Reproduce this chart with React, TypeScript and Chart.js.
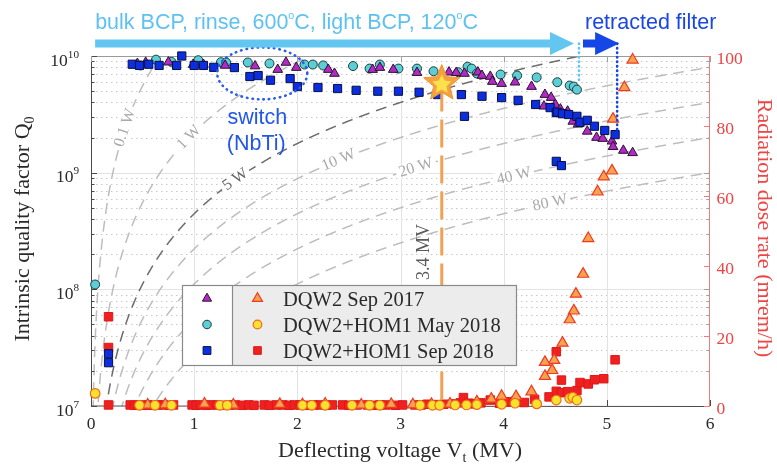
import React, { useEffect, useRef } from "react";
import { Chart, registerables } from "chart.js";

Chart.register(...registerables);

// ---- measured data: [deflecting voltage (MV), value] ----
const dqw2Sep2017Q0: [number, number][] = [
  [0.45, 8.6e9], [0.53, 8.8e9], [0.75, 8.85e9], [0.99, 8.45e9], [1.09, 8.45e9], [1.3, 8.3e9],
  [1.59, 8.2e9], [1.81, 7.65e9], [1.89, 8.8e9], [1.99, 7.96e9], [2.3, 7.65e9], [2.36, 7.08e9],
  [2.73, 7.65e9], [2.8, 7.96e9], [2.93, 7.65e9], [3.16, 7.2e9], [3.47, 7.26e9], [3.54, 7.2e9],
  [3.62, 7.08e9], [3.75, 7.26e9], [3.79, 6.8e9], [3.87, 6.67e9], [3.89, 6.04e9], [3.98, 5.8e9],
  [4.11, 5.96e9], [4.27, 5.47e9], [4.4, 4.67e9], [4.46, 4.4e9], [4.39, 3.71e9], [4.5, 3.84e9],
  [4.55, 3.5e9], [4.62, 3.36e9], [4.67, 2.75e9], [4.72, 2.6e9], [4.81, 2.26e9], [4.9, 2.0e9],
  [4.96, 1.96e9], [5.05, 1.86e9], [5.06, 1.67e9], [5.16, 1.55e9], [5.25, 1.48e9],
];

const dqw2Hom1May2018Q0: [number, number][] = [
  [0.04, 1.1e8], [0.48, 8.3e9], [0.63, 9.3e9], [0.78, 8.9e9], [1.04, 9.2e9], [1.26, 8.85e9],
  [1.31, 8.8e9], [1.52, 8.8e9], [1.73, 8.63e9], [2.07, 8.45e9], [2.15, 8.45e9], [2.25, 8.3e9],
  [2.54, 8.2e9], [2.7, 7.8e9], [2.8, 8.45e9], [2.98, 7.8e9], [3.16, 7.8e9], [3.32, 7.4e9],
  [3.56, 7.26e9], [3.65, 8.1e9], [3.69, 7.8e9], [3.74, 7.08e9], [3.97, 6.94e9], [4.13, 6.8e9],
  [4.32, 6.55e9], [4.52, 5.96e9], [4.64, 5.58e9], [4.68, 5.47e9], [4.71, 5.15e9],
];

const dqw2Hom1Sep2018Q0: [number, number][] = [
  [0.17, 2.8e7], [0.17, 2.35e7], [0.4, 8.5e9], [0.47, 8.3e9], [0.56, 8.5e9], [0.66, 8.3e9],
  [0.83, 8.3e9], [0.88, 1.0e10], [1.0, 8.3e9], [1.09, 8.3e9], [1.19, 8.0e9], [1.39, 7.96e9],
  [1.54, 6.67e9], [1.62, 6.8e9], [1.74, 6.2e9], [1.93, 6.4e9], [2.0, 5.47e9], [2.2, 5.37e9],
  [2.39, 5.26e9], [2.57, 5.08e9], [2.78, 4.99e9], [2.98, 4.99e9], [3.18, 4.89e9], [3.36, 4.67e9],
  [3.59, 4.67e9], [3.62, 3.04e9], [3.79, 4.52e9], [3.98, 4.4e9], [4.14, 4.17e9], [4.31, 3.84e9],
  [4.45, 3.61e9], [4.51, 3.27e9], [4.52, 3.3e9], [4.57, 3.2e9], [4.63, 3.15e9], [4.71, 3.04e9],
  [4.74, 2.7e9], [4.81, 2.81e9], [4.88, 2.5e9], [4.98, 2.3e9], [5.08, 2.12e9], [4.51, 1.25e9],
  [4.56, 1.15e9],
];

const dqw2Sep2017Dose: [number, number][] = [
  [5.25, 98.9], [5.17, 91], [5.06, 82], [5.05, 67.2], [4.97, 65.5], [4.91, 61.2], [4.82, 47.9],
  [4.77, 37.7], [4.7, 32], [4.68, 27.2], [4.64, 24.7], [4.57, 18], [4.49, 13.1], [4.4, 12.5],
  [4.47, 10.2], [4.4, 8.5], [4.27, 4.1], [4.12, 2.7], [3.98, 2.8], [3.88, 2.0], [3.74, 1.2],
  [3.48, 0.6], [2.91, 0.5], [0.55, 0.3], [0.72, 0.4], [1.1, 0.6], [1.38, 0.3], [1.83, 0.5],
  [2.05, 0.4], [2.27, 0.6], [2.62, 0.3], [3.12, 0.4], [3.3, 0.5],
];

const dqw2Hom1May2018Dose: [number, number][] = [
  [0.04, 3.6], [0.47, 0.2], [0.62, 0.2], [0.78, 0.2], [1.25, 0.2], [1.32, 0.2], [2.05, 0.2],
  [2.14, 0.2], [2.27, 0.2], [2.53, 0.2], [2.7, 0.2], [2.8, 0.2], [3.19, 0.2], [3.31, 0.2],
  [3.38, 0.2], [3.53, 0.3], [3.64, 0.3], [3.74, 0.4], [3.98, 0.5], [4.11, 0.8], [4.32, 0.6],
  [4.51, 1.7], [4.64, 2.2], [4.67, 2.5], [4.71, 1.7],
];

const dqw2Hom1Sep2018Dose: [number, number][] = [
  [0.17, 25.5], [0.17, 16.7], [0.17, 0.3], [0.38, 0.3], [0.42, 0.2], [0.46, 0.3], [0.51, 0.2],
  [0.55, 0.3], [0.6, 0.2], [0.65, 0.3], [0.7, 0.3], [0.76, 0.2], [0.8, 0.3], [0.98, 0.3],
  [1.02, 0.2], [1.06, 0.3], [1.12, 0.2], [1.16, 0.3], [1.22, 0.3], [1.28, 0.2], [1.34, 0.3],
  [1.4, 0.3], [1.47, 0.2], [1.53, 0.3], [1.58, 0.2], [1.68, 0.3], [1.73, 0.2], [1.8, 0.3],
  [1.86, 0.3], [1.92, 0.2], [1.97, 0.3], [2.03, 0.3], [2.1, 0.2], [2.16, 0.3], [2.22, 0.3],
  [2.28, 0.2], [2.34, 0.3], [2.44, 0.3], [2.5, 0.2], [2.58, 0.3], [2.68, 0.3], [2.74, 0.2],
  [2.8, 0.3], [2.86, 0.3], [2.95, 0.2], [3.02, 0.3], [3.14, 0.3], [3.2, 0.3], [3.26, 0.5],
  [3.33, 0.4], [3.42, 0.5], [3.52, 0.6], [3.58, 0.9], [3.61, 2.4], [3.66, 0.8], [3.72, 0.6],
  [3.78, 0.9], [3.87, 1.7], [3.96, 0.8], [4.05, 1.2], [4.12, 1.5], [4.2, 1.0], [4.3, 1.9],
  [4.44, 2.6], [4.51, 4.2], [4.51, 15.5], [4.56, 3.8], [4.56, 7.4], [4.62, 4.1], [4.71, 4.4],
  [4.74, 6.7], [4.82, 6.3], [4.88, 7.5], [4.97, 7.8], [5.08, 13.2],
];

// ---- axes ----
const voltageTicks = [0, 1, 2, 3, 4, 5, 6];
const q0Decades = [7, 8, 9, 10];
const doseTicks = [0, 20, 40, 60, 80, 100];

// ---- iso-power curves P = V^2 / (R/Q * Q0) ----
const powerLevels = [0.1, 1, 5, 10, 20, 40, 80];
const powerLabelVoltage = [0.33, 0.95, 1.4, 2.4, 3.15, 4.1, 4.45];
const rOverQ = 450; // ohm

// ---- annotations ----
const operatingV = 3.4;
const operatingQ = 5.8e9;
const processEndV = 4.73;
const processEndQ = 5.9e9;
const filterEndV = 5.1;
const filterEndQ = 2.34e9;
const arrowStartV = 0.04;
const switchV = 1.66;
const switchQ = 7.1e9;

const SERIF = "'Liberation Serif', 'Times New Roman', serif";
const SANS = "'Liberation Sans', Arial, sans-serif";

type Style = "triangle" | "circle" | "rect";
interface SeriesStyle { style: Style; r: number; fill: string; stroke: string; lw: number; }

const qStyles: SeriesStyle[] = [
  { style: "triangle", r: 5.6, fill: "#b12ac3", stroke: "#2a1230", lw: 1 },
  { style: "circle", r: 4.5, fill: "#5ccfd6", stroke: "#1d3a3d", lw: 1 },
  { style: "rect", r: 5.8, fill: "#0b2fe0", stroke: "#0a0f40", lw: 1 },
];
const doseStyles: SeriesStyle[] = [
  { style: "triangle", r: 6.4, fill: "#f7a34e", stroke: "#ef3a22", lw: 1.2 },
  { style: "circle", r: 4.8, fill: "#f9e22e", stroke: "#f06a1e", lw: 1.2 },
  { style: "rect", r: 6, fill: "#ee2020", stroke: "#e01818", lw: 1 },
];
const seriesNames = ["DQW2 Sep 2017", "DQW2+HOM1 May 2018", "DQW2+HOM1 Sep 2018"];

type Seg = { t: string; pos?: "sub" | "sup"; k?: number };

function segFont(size: number, family: string, s: Seg) {
  return `${s.pos ? size * (s.k ?? 0.64) : size}px ${family}`;
}
function richWidth(ctx: CanvasRenderingContext2D, segs: Seg[], size: number, family: string) {
  let w = 0;
  for (const s of segs) {
    ctx.font = segFont(size, family, s);
    w += ctx.measureText(s.t).width;
  }
  return w;
}
function drawRich(
  ctx: CanvasRenderingContext2D, segs: Seg[], x: number, y: number,
  size: number, family: string, align: "left" | "center" | "right"
) {
  const w = richWidth(ctx, segs, size, family);
  let cx = align === "center" ? x - w / 2 : align === "right" ? x - w : x;
  ctx.textAlign = "left";
  ctx.textBaseline = "alphabetic";
  for (const s of segs) {
    ctx.font = segFont(size, family, s);
    const dy = s.pos === "sub" ? size * 0.24 : s.pos === "sup" ? -size * 0.45 : 0;
    ctx.fillText(s.t, cx, y + dy);
    cx += ctx.measureText(s.t).width;
  }
}

function drawMarker(ctx: CanvasRenderingContext2D, st: SeriesStyle, x: number, y: number) {
  const r = st.r;
  ctx.beginPath();
  if (st.style === "circle") ctx.arc(x, y, r, 0, Math.PI * 2);
  else if (st.style === "triangle") {
    ctx.moveTo(x, y - r);
    ctx.lineTo(x + 0.866 * r, y + 0.5 * r);
    ctx.lineTo(x - 0.866 * r, y + 0.5 * r);
    ctx.closePath();
  } else {
    const h = r * Math.SQRT1_2;
    ctx.rect(x - h, y - h, 2 * h, 2 * h);
  }
  ctx.fillStyle = st.fill;
  ctx.fill();
  ctx.lineWidth = st.lw;
  ctx.strokeStyle = st.stroke;
  ctx.setLineDash([]);
  ctx.stroke();
}

function q0ForPower(vMV: number, watts: number) {
  const v = vMV * 1e6;
  return (v * v) / (rOverQ * watts);
}

function drawStar(ctx: CanvasRenderingContext2D, cx: number, cy: number, R: number, ratio: number) {
  ctx.beginPath();
  for (let i = 0; i < 10; i++) {
    const rad = i % 2 === 0 ? R : R * ratio;
    const a = -Math.PI / 2 + (i * Math.PI) / 5;
    const px = cx + rad * Math.cos(a);
    const py = cy + rad * Math.sin(a);
    if (i === 0) ctx.moveTo(px, py);
    else ctx.lineTo(px, py);
  }
  ctx.closePath();
}

const decorPlugin = {
  id: "decor",
  beforeDatasetsDraw(chart: any) {
    const ctx: CanvasRenderingContext2D = chart.ctx;
    const ca = chart.chartArea;
    const xs = chart.scales.x;
    const ys = chart.scales.y;
    const y2 = chart.scales.y2;
    ctx.save();

    // minor dotted grid (log decades)
    ctx.lineWidth = 1;
    ctx.strokeStyle = "#c9c9c9";
    ctx.setLineDash([1.5, 3.5]);
    for (let e = 7; e < 10; e++) {
      for (let m = 2; m <= 9; m++) {
        const py = Math.round(ys.getPixelForValue(m * Math.pow(10, e))) + 0.5;
        ctx.beginPath();
        ctx.moveTo(ca.left, py);
        ctx.lineTo(ca.right, py);
        ctx.stroke();
      }
    }
    // major grid
    ctx.setLineDash([]);
    ctx.strokeStyle = "#e3e3e3";
    for (const v of voltageTicks.slice(1, -1)) {
      const px = Math.round(xs.getPixelForValue(v)) + 0.5;
      ctx.beginPath();
      ctx.moveTo(px, ca.top);
      ctx.lineTo(px, ca.bottom);
      ctx.stroke();
    }
    for (const e of q0Decades.slice(1, -1)) {
      const py = Math.round(ys.getPixelForValue(Math.pow(10, e))) + 0.5;
      ctx.beginPath();
      ctx.moveTo(ca.left, py);
      ctx.lineTo(ca.right, py);
      ctx.stroke();
    }

    // iso-power curves
    ctx.save();
    ctx.beginPath();
    ctx.rect(ca.left, ca.top, ca.right - ca.left, ca.bottom - ca.top);
    ctx.clip();
    powerLevels.forEach((p) => {
      ctx.beginPath();
      let first = true;
      for (let v = 0.002; v <= 6.001; v += 0.004) {
        const px = xs.getPixelForValue(v);
        const py = ys.getPixelForValue(q0ForPower(v, p));
        if (first) { ctx.moveTo(px, py); first = false; } else ctx.lineTo(px, py);
      }
      ctx.setLineDash([11, 7]);
      ctx.lineWidth = 1.5;
      ctx.strokeStyle = p === 5 ? "#6c6c6c" : "#bdbdbd";
      ctx.stroke();
    });
    // curve labels
    ctx.setLineDash([]);
    powerLevels.forEach((p, i) => {
      const v = powerLabelVoltage[i];
      const px = xs.getPixelForValue(v);
      const py = ys.getPixelForValue(q0ForPower(v, p));
      const px2 = xs.getPixelForValue(v + 0.01);
      const py2 = ys.getPixelForValue(q0ForPower(v + 0.01, p));
      const ang = Math.atan2(py2 - py, px2 - px);
      const label = `${p} W`;
      ctx.save();
      ctx.translate(px, py);
      ctx.rotate(ang);
      ctx.font = `16px ${SERIF}`;
      const w = ctx.measureText(label).width;
      ctx.fillStyle = "#ffffff";
      ctx.fillRect(-w / 2 - 3, -7, w + 6, 13);
      ctx.fillStyle = p === 5 ? "#666666" : "#a9a9a9";
      ctx.textAlign = "center";
      ctx.textBaseline = "middle";
      ctx.fillText(label, 0, 0);
      ctx.restore();
    });
    ctx.restore();

    // frame
    ctx.setLineDash([]);
    ctx.lineWidth = 1;
    ctx.strokeStyle = "#9a9a9a";
    ctx.beginPath();
    ctx.moveTo(ca.left, ca.top + 0.5);
    ctx.lineTo(ca.right, ca.top + 0.5);
    ctx.stroke();
    ctx.strokeStyle = "#4a4a4a";
    ctx.beginPath();
    ctx.moveTo(ca.left + 0.5, ca.top);
    ctx.lineTo(ca.left + 0.5, ca.bottom);
    ctx.lineTo(ca.right, ca.bottom + 0.5);
    ctx.stroke();
    ctx.strokeStyle = "#f27a7a";
    ctx.beginPath();
    ctx.moveTo(ca.right - 0.5, ca.top);
    ctx.lineTo(ca.right - 0.5, ca.bottom);
    ctx.stroke();

    // ticks
    for (let e = 7; e <= 10; e++) {
      for (let m = 1; m <= 9; m++) {
        if (e === 10 && m > 1) break;
        const py = Math.round(ys.getPixelForValue(m * Math.pow(10, e))) + 0.5;
        const len = m === 1 ? 6 : 3.5;
        ctx.strokeStyle = "#4a4a4a";
        ctx.beginPath();
        ctx.moveTo(ca.left, py);
        ctx.lineTo(ca.left + len, py);
        ctx.stroke();
        ctx.strokeStyle = "#a0a0a0";
        ctx.beginPath();
        ctx.moveTo(ca.right, py);
        ctx.lineTo(ca.right - len, py);
        ctx.stroke();
      }
    }
    for (const v of voltageTicks) {
      const px = Math.round(xs.getPixelForValue(v)) + 0.5;
      ctx.strokeStyle = "#4a4a4a";
      ctx.beginPath();
      ctx.moveTo(px, ca.bottom);
      ctx.lineTo(px, ca.bottom - 6);
      ctx.stroke();
      ctx.strokeStyle = "#a0a0a0";
      ctx.beginPath();
      ctx.moveTo(px, ca.top);
      ctx.lineTo(px, ca.top + 6);
      ctx.stroke();
    }
    ctx.strokeStyle = "#f27a7a";
    for (const d of doseTicks) {
      const py = Math.round(y2.getPixelForValue(d)) + 0.5;
      ctx.beginPath();
      ctx.moveTo(ca.right, py);
      ctx.lineTo(ca.right - 6, py);
      ctx.stroke();
    }
    ctx.restore();
  },

  afterDatasetsDraw(chart: any) {
    const ctx: CanvasRenderingContext2D = chart.ctx;
    const ca = chart.chartArea;
    const xs = chart.scales.x;
    const ys = chart.scales.y;
    const y2 = chart.scales.y2;
    ctx.save();

    // operating point line and star
    const ox = xs.getPixelForValue(operatingV);
    const oy = ys.getPixelForValue(operatingQ);
    ctx.strokeStyle = "#f2a152";
    ctx.lineWidth = 3;
    ctx.setLineDash([28, 8]);
    ctx.beginPath();
    ctx.moveTo(ox, oy);
    ctx.lineTo(ox, ca.bottom);
    ctx.stroke();
    ctx.setLineDash([]);
    ctx.save();
    ctx.translate(ox - 18, 252);
    ctx.rotate(-Math.PI / 2);
    ctx.font = `18px ${SERIF}`;
    ctx.fillStyle = "#5a5a5a";
    ctx.textAlign = "center";
    ctx.textBaseline = "middle";
    ctx.fillText(`${operatingV} MV`, 0, 0);
    ctx.restore();
    drawStar(ctx, ox, oy, 19, 0.45);
    ctx.fillStyle = "#f4a240";
    ctx.fill();
    ctx.strokeStyle = "#ee9330";
    ctx.lineWidth = 1;
    ctx.stroke();
    drawStar(ctx, ox, oy + 1, 10, 0.5);
    ctx.fillStyle = "#fbe24c";
    ctx.fill();

    // legend box
    const lx = 182, ly = 285, lw = 334, lh = 80, div = 232;
    ctx.fillStyle = "#ffffff";
    ctx.fillRect(lx, ly, div - lx, lh);
    ctx.fillStyle = "#ececec";
    ctx.fillRect(div, ly, lx + lw - div, lh);
    ctx.strokeStyle = "#8a8a8a";
    ctx.lineWidth = 1.2;
    ctx.strokeRect(lx + 0.5, ly + 0.5, lw, lh);
    ctx.beginPath();
    ctx.moveTo(div + 0.5, ly);
    ctx.lineTo(div + 0.5, ly + lh);
    ctx.stroke();
    const rows = [298.5, 324.5, 350.5];
    rows.forEach((ry, i) => {
      drawMarker(ctx, { ...qStyles[i], r: qStyles[i].r * 0.95 }, 207, ry);
      drawMarker(ctx, { ...doseStyles[i], r: doseStyles[i].r * 0.9 }, 257.5, ry);
      ctx.fillStyle = "#2a2a2a";
      ctx.font = `20.5px ${SERIF}`;
      ctx.textAlign = "left";
      ctx.textBaseline = "alphabetic";
      ctx.fillText(seriesNames[i], 283, ry + 7);
    });

    // switch ellipse
    const sx = xs.getPixelForValue(switchV);
    const sy = ys.getPixelForValue(switchQ);
    ctx.strokeStyle = "#2a5cf0";
    ctx.lineWidth = 2.6;
    ctx.lineCap = "round";
    ctx.setLineDash([0.5, 5]);
    ctx.beginPath();
    ctx.ellipse(sx, sy, 45, 26, 0, 0, Math.PI * 2);
    ctx.stroke();
    ctx.fillStyle = "#2256ec";
    ctx.font = `21.5px ${SANS}`;
    ctx.textAlign = "center";
    ctx.textBaseline = "alphabetic";
    ctx.fillText("switch", sx - 5, 124);
    ctx.fillText("(NbTi)", sx - 6, 150);

    // treatment arrows
    const aStart = xs.getPixelForValue(arrowStartV);
    const pEnd = xs.getPixelForValue(processEndV);
    const fEnd = xs.getPixelForValue(filterEndV);
    const ay = 43.5;
    ctx.setLineDash([]);
    ctx.fillStyle = "#63c6f1";
    ctx.fillRect(aStart, ay - 4, pEnd - 29 - aStart, 8);
    ctx.beginPath();
    ctx.moveTo(pEnd - 29, ay - 11.5);
    ctx.lineTo(pEnd - 5, ay);
    ctx.lineTo(pEnd - 29, ay + 11.5);
    ctx.closePath();
    ctx.fill();
    ctx.fillStyle = "#1546e6";
    ctx.fillRect(pEnd + 4, ay - 4, 14, 8);
    ctx.beginPath();
    ctx.moveTo(fEnd - 22, ay - 11.5);
    ctx.lineTo(fEnd + 2, ay);
    ctx.lineTo(fEnd - 22, ay + 11.5);
    ctx.closePath();
    ctx.fill();

    // dotted drop lines
    ctx.lineWidth = 2.6;
    ctx.lineCap = "round";
    ctx.setLineDash([0.5, 4]);
    ctx.strokeStyle = "#63c6f1";
    ctx.beginPath();
    ctx.moveTo(pEnd, ay);
    ctx.lineTo(pEnd, ys.getPixelForValue(processEndQ));
    ctx.stroke();
    ctx.strokeStyle = "#1546e6";
    ctx.beginPath();
    ctx.moveTo(fEnd, ay);
    ctx.lineTo(fEnd, ys.getPixelForValue(filterEndQ));
    ctx.stroke();
    ctx.setLineDash([]);
    ctx.lineCap = "butt";

    // top texts
    ctx.fillStyle = "#5ec2f1";
    drawRich(ctx, [
      { t: "bulk BCP, rinse, 600" }, { t: "o", pos: "sup", k: 0.5 }, { t: "C, light BCP, 120" },
      { t: "o", pos: "sup", k: 0.5 }, { t: "C" },
    ], aStart, 29, 21.5, SANS, "left");
    ctx.fillStyle = "#1a47e3";
    ctx.font = `21.5px ${SANS}`;
    ctx.textAlign = "left";
    ctx.fillText("retracted filter", 585, 29);

    // tick labels
    ctx.fillStyle = "#2a2a2a";
    for (const e of q0Decades) {
      const py = ys.getPixelForValue(Math.pow(10, e));
      drawRich(ctx, [{ t: "10" }, { t: String(e), pos: "sup" }], 79, py + 9.5, 17.5, SERIF, "right");
    }
    ctx.font = `17.5px ${SERIF}`;
    ctx.textAlign = "center";
    ctx.textBaseline = "alphabetic";
    for (const v of voltageTicks) {
      ctx.fillText(String(v), xs.getPixelForValue(v), 428.5);
    }
    ctx.fillStyle = "#ee4444";
    ctx.textAlign = "left";
    for (const d of doseTicks) {
      ctx.fillText(String(d), 716.5, y2.getPixelForValue(d) + 7.5);
    }

    // axis titles
    ctx.fillStyle = "#2a2a2a";
    drawRich(ctx, [{ t: "Deflecting voltage V" }, { t: "t", pos: "sub" }, { t: " (MV)" }], 400, 457, 22, SERIF, "center");
    ctx.save();
    ctx.translate(29, 229);
    ctx.rotate(-Math.PI / 2);
    drawRich(ctx, [{ t: "Intrinsic quality factor Q" }, { t: "0", pos: "sub" }], 0, 0, 22, SERIF, "center");
    ctx.restore();
    ctx.save();
    ctx.translate(758, 228);
    ctx.rotate(Math.PI / 2);
    ctx.fillStyle = "#ee4444";
    drawRich(ctx, [{ t: "Radiation dose rate (mrem/h)" }], 0, 0, 22, SERIF, "center");
    ctx.restore();

    ctx.restore();
  },
};

function toPoints(arr: [number, number][]) {
  return arr.map(([x, y]) => ({ x, y }));
}

function dataset(label: string, data: [number, number][], axis: string, st: SeriesStyle) {
  return {
    label,
    data: toPoints(data),
    yAxisID: axis,
    pointStyle: st.style,
    pointRadius: st.r,
    backgroundColor: st.fill,
    borderColor: st.stroke,
    borderWidth: st.lw,
    clip: false as const,
  };
}

export default function App() {
  const ref = useRef<HTMLCanvasElement>(null);
  useEffect(() => {
    document.body.style.margin = "0";
    const chart = new Chart(ref.current!, {
      type: "scatter",
      data: {
        datasets: [
          dataset(seriesNames[2] + " Q0", dqw2Hom1Sep2018Q0, "y", qStyles[2]),
          dataset(seriesNames[0] + " Q0", dqw2Sep2017Q0, "y", qStyles[0]),
          dataset(seriesNames[1] + " Q0", dqw2Hom1May2018Q0, "y", qStyles[1]),
          dataset(seriesNames[1] + " dose", dqw2Hom1May2018Dose, "y2", doseStyles[1]),
          dataset(seriesNames[0] + " dose", dqw2Sep2017Dose, "y2", doseStyles[0]),
          dataset(seriesNames[2] + " dose", dqw2Hom1Sep2018Dose, "y2", doseStyles[2]),
        ] as any,
      },
      options: {
        responsive: false,
        animation: false,
        devicePixelRatio: 1,
        events: [],
        layout: { padding: { top: 56, left: 0, right: 0, bottom: 0 } },
        plugins: { legend: { display: false }, tooltip: { enabled: false } },
        scales: {
          x: {
            type: "linear", min: 0, max: 6,
            ticks: { display: false }, grid: { display: false }, border: { display: false },
            afterFit: (s: any) => { s.height = 59; },
          },
          y: {
            type: "logarithmic", position: "left", min: 1e7, max: 1e10,
            ticks: { display: false }, grid: { display: false }, border: { display: false },
            afterFit: (s: any) => { s.width = 91; },
          },
          y2: {
            type: "linear", position: "right", min: 0, max: 100,
            ticks: { display: false }, grid: { display: false }, border: { display: false },
            afterFit: (s: any) => { s.width = 67; },
          },
        },
      } as any,
      plugins: [decorPlugin],
    });
    return () => chart.destroy();
  }, []);
  return (
    <div style={{ width: 777, height: 465 }}>
      <canvas ref={ref} width={777} height={465} style={{ display: "block" }} />
    </div>
  );
}
